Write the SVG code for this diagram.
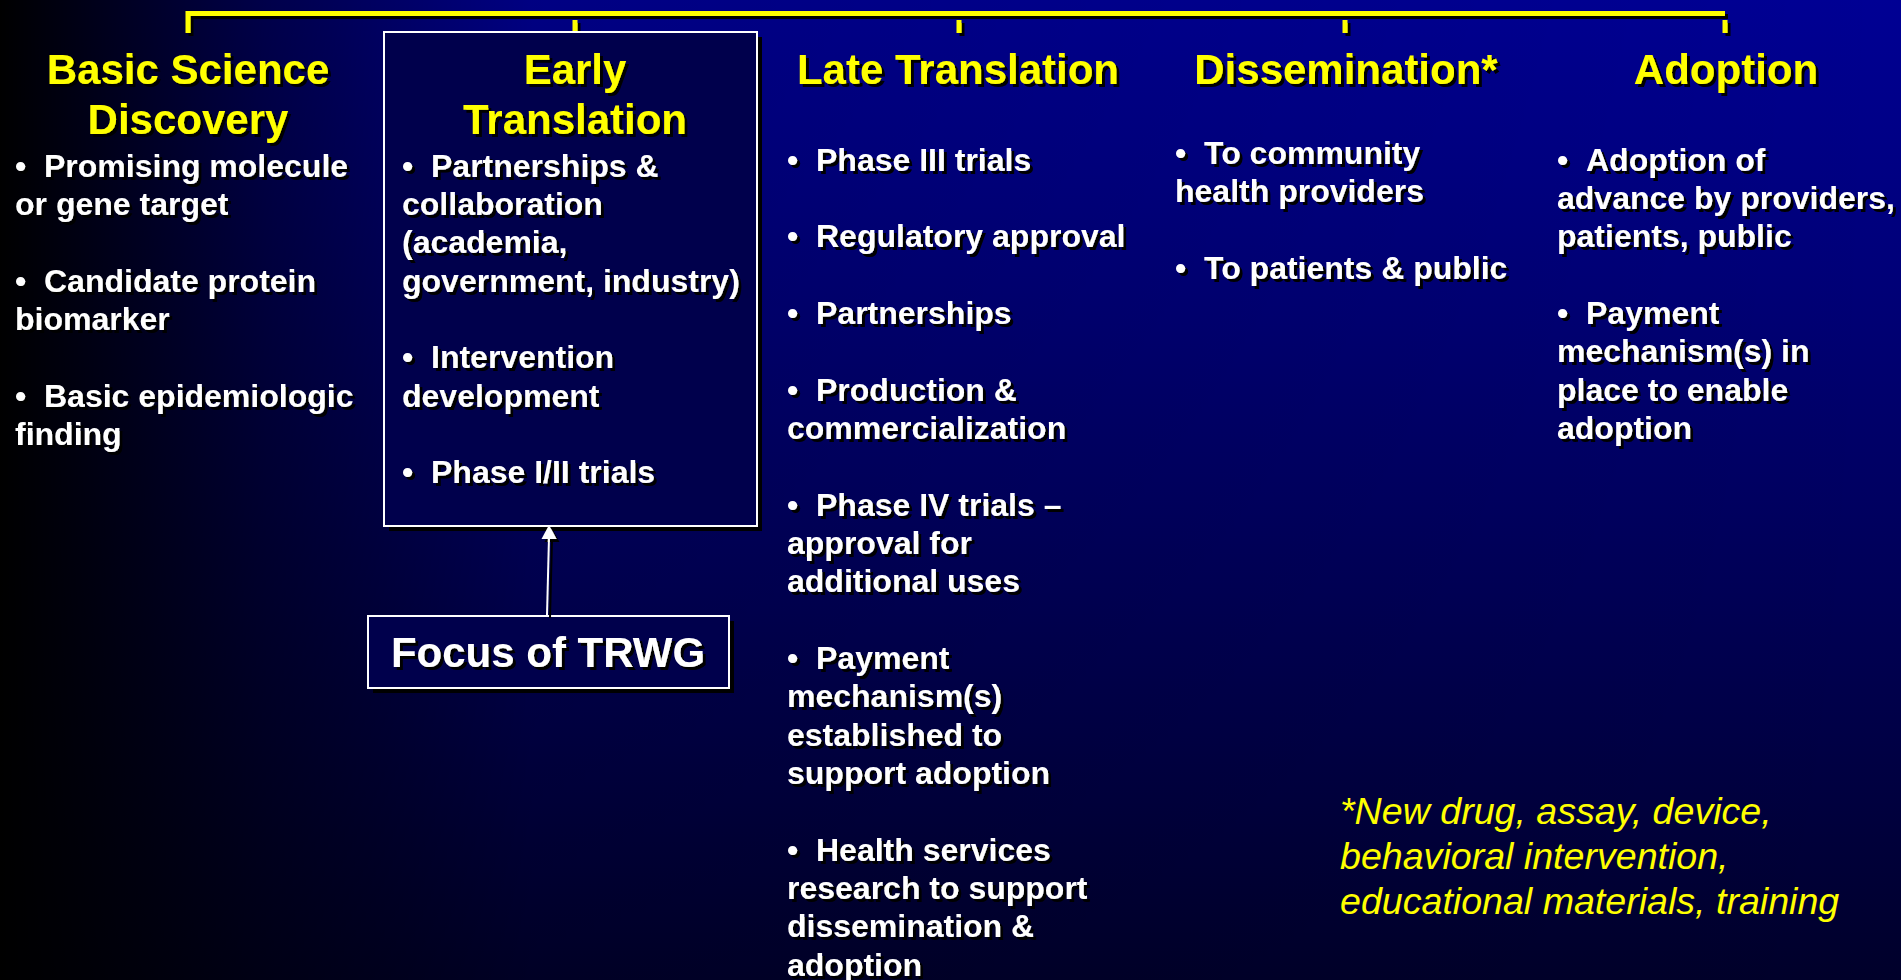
<svg xmlns="http://www.w3.org/2000/svg" width="1901" height="980" viewBox="0 0 1901 980">
<defs>
<linearGradient id="bgv" x1="0" y1="0" x2="0" y2="1">
<stop offset="0" stop-color="#000094"/>
<stop offset="0.5" stop-color="#000062"/>
<stop offset="1" stop-color="#00002A"/>
</linearGradient>
<linearGradient id="bgh" x1="0" y1="0" x2="1" y2="0">
<stop offset="0" stop-color="#000" stop-opacity="1"/>
<stop offset="0.14" stop-color="#000" stop-opacity="0.5"/>
<stop offset="0.28" stop-color="#000" stop-opacity="0.12"/>
<stop offset="1" stop-color="#000" stop-opacity="0"/>
</linearGradient>
<filter id="sh" x="-10%" y="-20%" width="130%" height="150%">
<feOffset in="SourceAlpha" dx="3" dy="3" result="o"/>
<feMerge><feMergeNode in="o"/><feMergeNode in="SourceGraphic"/></feMerge>
</filter>
</defs>
<style>
.h{font-family:"Liberation Sans",Arial,sans-serif;font-weight:bold;font-size:42px;fill:#FFFF00;text-anchor:middle;filter:url(#sh)}
.b{font-family:"Liberation Sans",Arial,sans-serif;font-weight:bold;font-size:32px;fill:#FFFFFF;filter:url(#sh)}
.f{font-family:"Liberation Sans",Arial,sans-serif;font-style:italic;font-size:37.6px;fill:#FFFF00}
.box{fill:#00004C;stroke:#FFFFFF;stroke-width:2}
.bs{fill:#000000}
.br{stroke:#FFFF00;stroke-width:5;fill:none}
.ft{font-family:"Liberation Sans",Arial,sans-serif;font-weight:bold;font-size:42px;fill:#FFFFFF;text-anchor:middle;filter:url(#sh)}
</style>
<rect x="0" y="0" width="1901" height="980" fill="url(#bgv)"/>
<rect x="0" y="0" width="1901" height="980" fill="url(#bgh)"/>

<g id="bracket" filter="url(#sh)">
<path class="br" d="M188,33 V13.5 H1725"/>
<line class="br" x1="575" y1="20" x2="575" y2="33"/>
<line class="br" x1="959" y1="20" x2="959" y2="33"/>
<line class="br" x1="1345" y1="20" x2="1345" y2="33"/>
<line class="br" x1="1725" y1="20" x2="1725" y2="33"/>
</g>

<g id="basic-science">
<text class="h"><tspan x="188" y="84">Basic Science</tspan><tspan x="188" y="134">Discovery</tspan></text>
<text class="b">
<tspan x="15" y="176.7">•</tspan><tspan x="44" y="176.7">Promising molecule</tspan>
<tspan x="15" y="215">or gene target</tspan>
<tspan x="15" y="291.7">•</tspan><tspan x="44" y="291.7">Candidate protein</tspan>
<tspan x="15" y="330">biomarker</tspan>
<tspan x="15" y="406.7">•</tspan><tspan x="44" y="406.7">Basic epidemiologic</tspan>
<tspan x="15" y="445">finding</tspan>
</text>
</g>

<g id="early-translation">
<rect class="bs" x="389" y="37" width="373" height="494"/>
<rect class="box" x="384" y="32" width="373" height="494"/>
<text class="h"><tspan x="575" y="84">Early</tspan><tspan x="575" y="134">Translation</tspan></text>
<text class="b">
<tspan x="402" y="176.7">•</tspan><tspan x="431" y="176.7">Partnerships &amp;</tspan>
<tspan x="402" y="215">collaboration</tspan>
<tspan x="402" y="253.3">(academia,</tspan>
<tspan x="402" y="291.7">government, industry)</tspan>
<tspan x="402" y="368.3">•</tspan><tspan x="431" y="368.3">Intervention</tspan>
<tspan x="402" y="406.7">development</tspan>
<tspan x="402" y="483.3">•</tspan><tspan x="431" y="483.3">Phase I/II trials</tspan>
</text>
</g>

<g id="late-translation">
<text class="h"><tspan x="958" y="84">Late Translation</tspan></text>
<text class="b">
<tspan x="787" y="170.7">•</tspan><tspan x="816" y="170.7">Phase III trials</tspan>
<tspan x="787" y="247.3">•</tspan><tspan x="816" y="247.3">Regulatory approval</tspan>
<tspan x="787" y="324">•</tspan><tspan x="816" y="324">Partnerships</tspan>
<tspan x="787" y="400.7">•</tspan><tspan x="816" y="400.7">Production &amp;</tspan>
<tspan x="787" y="439">commercialization</tspan>
<tspan x="787" y="515.7">•</tspan><tspan x="816" y="515.7">Phase IV trials –</tspan>
<tspan x="787" y="554">approval for</tspan>
<tspan x="787" y="592.3">additional uses</tspan>
<tspan x="787" y="669">•</tspan><tspan x="816" y="669">Payment</tspan>
<tspan x="787" y="707.3">mechanism(s)</tspan>
<tspan x="787" y="745.7">established to</tspan>
<tspan x="787" y="784">support adoption</tspan>
<tspan x="787" y="860.7">•</tspan><tspan x="816" y="860.7">Health services</tspan>
<tspan x="787" y="899">research to support</tspan>
<tspan x="787" y="937.3">dissemination &amp;</tspan>
<tspan x="787" y="975.7">adoption</tspan>
</text>
</g>

<g id="dissemination">
<text class="h"><tspan x="1346" y="84">Dissemination*</tspan></text>
<text class="b">
<tspan x="1175" y="164">•</tspan><tspan x="1204" y="164">To community</tspan>
<tspan x="1175" y="202.3">health providers</tspan>
<tspan x="1175" y="279">•</tspan><tspan x="1204" y="279">To patients &amp; public</tspan>
</text>
</g>

<g id="adoption">
<text class="h"><tspan x="1726" y="84">Adoption</tspan></text>
<text class="b">
<tspan x="1557" y="170.7">•</tspan><tspan x="1586" y="170.7">Adoption of</tspan>
<tspan x="1557" y="209">advance by providers,</tspan>
<tspan x="1557" y="247.3">patients, public</tspan>
<tspan x="1557" y="324">•</tspan><tspan x="1586" y="324">Payment</tspan>
<tspan x="1557" y="362.3">mechanism(s) in</tspan>
<tspan x="1557" y="400.7">place to enable</tspan>
<tspan x="1557" y="439">adoption</tspan>
</text>
</g>

<g id="focus">
<rect class="bs" x="373" y="621" width="361" height="72"/>
<rect class="box" x="368" y="616" width="361" height="72"/>
<text class="ft" x="548" y="667">Focus of TRWG</text>
</g>

<g id="footnote">
<text class="f"><tspan x="1340" y="824">*New drug, assay, device,</tspan><tspan x="1340" y="869">behavioral intervention,</tspan><tspan x="1340" y="914">educational materials, training</tspan></text>
</g>

<g id="connectors" filter="url(#sh)">
<line x1="547" y1="615" x2="549" y2="537" stroke="#FFFFFF" stroke-width="2"/>
<polygon points="549,525 541.5,539 556.5,539" fill="#FFFFFF"/>
</g>
</svg>
